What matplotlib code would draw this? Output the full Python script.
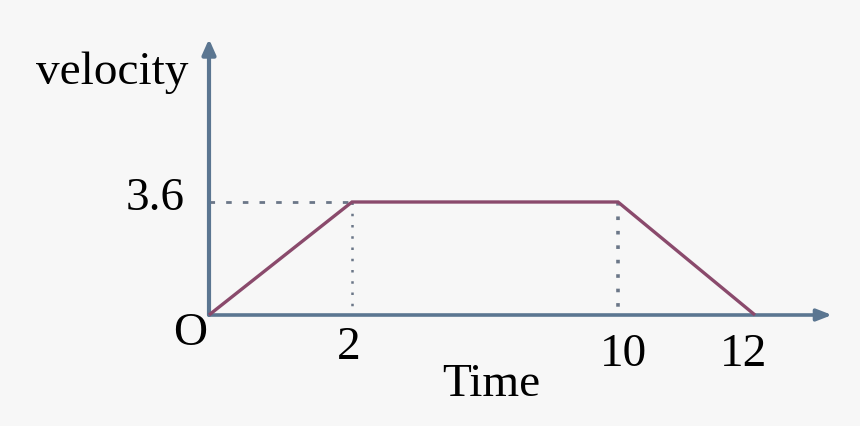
import numpy as np
import matplotlib
matplotlib.use('Agg')
import matplotlib.pyplot as plt

# velocity-time graph data
time = [0, 2, 10, 12]
velocity = [0, 3.6, 3.6, 0]
xtick_labels = ['O', '2', '10', '12']

# the sketch is not drawn to scale on the time axis, so use a piecewise scale
t_knots = np.array([-20, 0, 2, 10, 12, 40])
p_knots = np.array([209 - 20 * 71.5, 209, 352, 618, 755, 755 + 28 * 68.5])


def fwd(t):
    return np.interp(t, t_knots, p_knots)


def inv(p):
    return np.interp(p, p_knots, t_knots)


bg = '#f7f7f7'
axis_col = '#5b7691'
line_col = '#8a4a6c'
dot_col = '#6b7788'

plt.rcParams['font.family'] = ['Liberation Serif', 'DejaVu Serif']

fig = plt.figure(figsize=(8.6, 4.27), dpi=100, facecolor=bg)
ax = fig.add_axes([0, 0, 1, 1])
ax.set_facecolor(bg)
ax.set_xscale('function', functions=(fwd, inv))

px_per_v = 113 / 3.6
ax.set_xlim(inv(0), inv(860))
ax.set_ylim(-(427 - 316) / px_per_v, 316 / px_per_v)
ax.axis('off')

# axes with arrows
ax.annotate('', xy=(inv(832), 0), xytext=(0, 0),
            arrowprops=dict(arrowstyle='-|>,head_length=0.9,head_width=0.35',
                            color=axis_col, lw=2.6, shrinkA=0, shrinkB=0))
ax.annotate('', xy=(0, (316 - 40) / px_per_v), xytext=(0, 0),
            arrowprops=dict(arrowstyle='-|>,head_length=0.9,head_width=0.4',
                            color=axis_col, lw=3.0, shrinkA=0, shrinkB=0))

# guide lines
ax.plot([0, time[1]], [velocity[1], velocity[1]], color=dot_col, lw=2,
        linestyle=(0, (2, 4)))
ax.plot([time[1], time[1]], [velocity[1], 0], color=dot_col, lw=1.8,
        linestyle=(0, (1, 3.5)))
ax.plot([time[2], time[2]], [velocity[2], 0], color=dot_col, lw=2.6,
        linestyle=(0, (1, 3)))

# velocity profile
ax.plot(time, velocity, color=line_col, lw=2.4, solid_capstyle='butt',
        solid_joinstyle='miter', zorder=5)

fs = 34
ax.text(-0.27, -0.55, xtick_labels[0], fontsize=fs, ha='center', va='center')
ax.text(1.95, -1.0, xtick_labels[1], fontsize=fs, ha='center', va='center')
ax.text(10.08, -1.22, xtick_labels[2], fontsize=fs, ha='center', va='center')
ax.text(11.84, -1.22, xtick_labels[3], fontsize=fs, ha='center', va='center')
ax.text(6.18, -2.2, 'Time', fontsize=fs, ha='center', va='center')
ax.text(-0.76, 3.75, '3.6', fontsize=fs, ha='center', va='center')
ax.text(-1.36, 7.75, 'velocity', fontsize=fs, ha='center', va='center')

fig.savefig('out.png', dpi=100, facecolor=bg)
